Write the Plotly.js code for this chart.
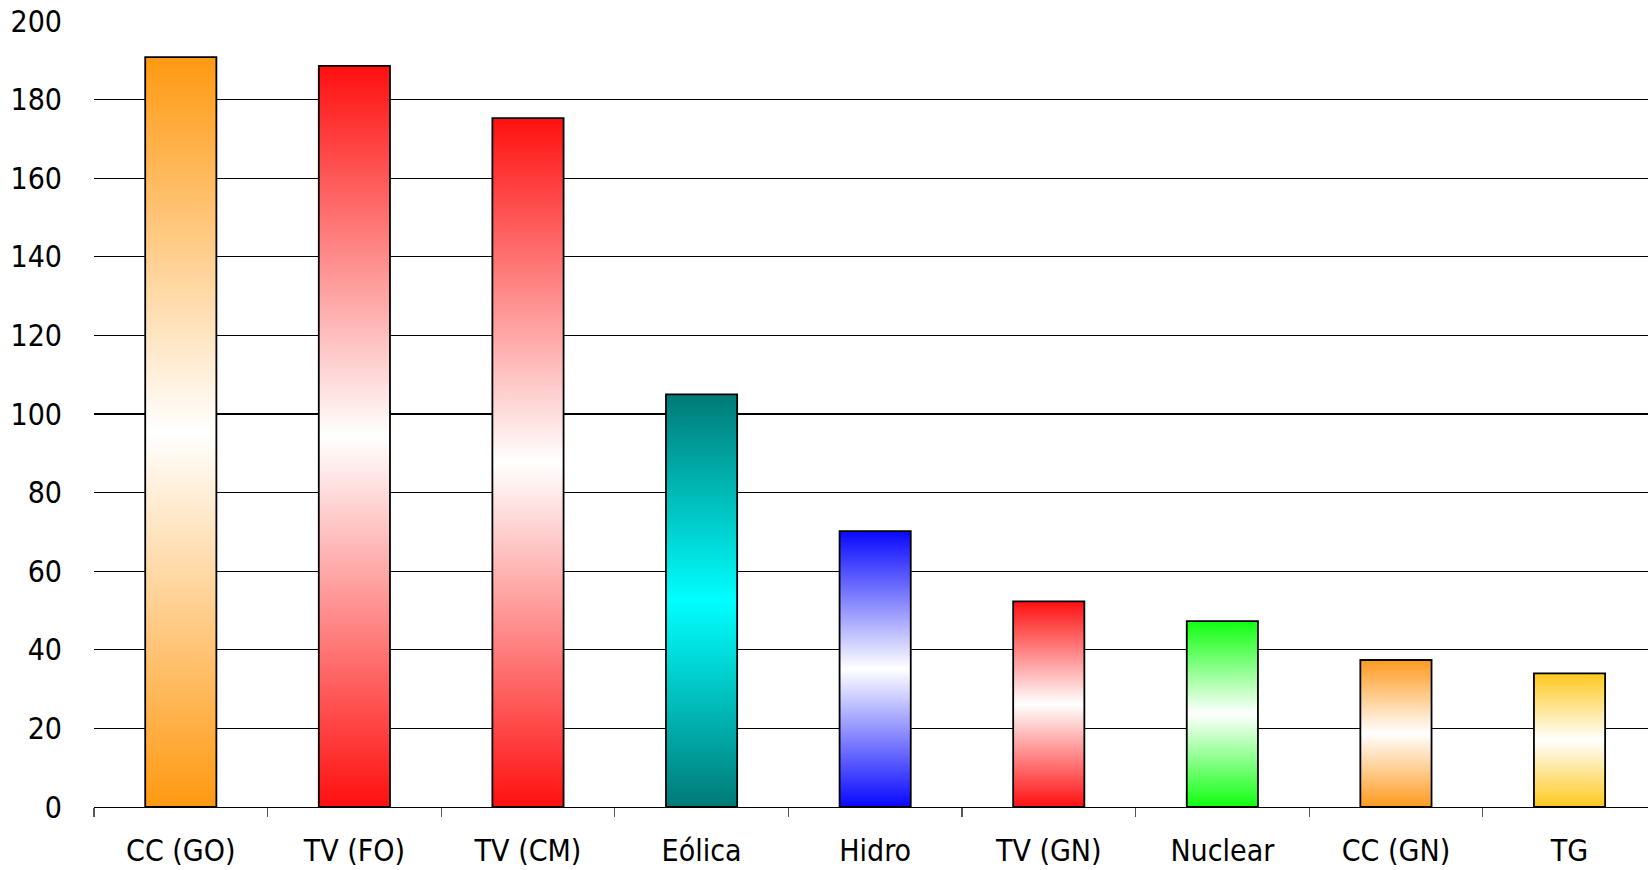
<!DOCTYPE html>
<html>
<head>
<meta charset="utf-8">
<script src="https://cdn.plot.ly/plotly-3.0.1.min.js"></script>
<style>
  body { margin: 0; background: #ffffff; overflow: hidden; }
  #chart { width: 1648px; height: 870px; }
</style>
</head>
<body>
<div id="chart"></div>
<script>
// dữ liệu
var categorias = ["CC (GO)", "TV (FO)", "TV (CM)", "Eólica", "Hidro", "TV (GN)", "Nuclear", "CC (GN)", "TG"];
var valores = [190.8, 188.6, 175.3, 105.0, 70.2, 52.3, 47.3, 37.4, 34.0];
var yTicks = [0, 20, 40, 60, 80, 100, 120, 140, 160, 180, 200];

// màu gradient: mép trên/dưới và ở giữa
var colorBorde = ["#ff9911", "#ff0f0f", "#ff1010", "#007a76", "#0808ff", "#ff1010", "#10ff10", "#ff9a20", "#ffc81e"];
var colorCentro = ["#ffffff", "#ffffff", "#ffffff", "#00ffff", "#ffffff", "#ffffff", "#ffffff", "#ffffff", "#ffffff"];

var fuente = "DejaVu Sans Condensed, DejaVu Sans, sans-serif";

var data = [{
    type: "bar",
    x: categorias,
    y: valores,
    marker: {
        color: colorBorde,
        line: { color: "#000000", width: 1.8 }
    },
    hoverinfo: "skip"
}];

var layout = {
    width: 1648,
    height: 870,
    margin: { l: 94, r: 0, t: 21, b: 63 },
    paper_bgcolor: "#ffffff",
    plot_bgcolor: "#ffffff",
    font: { family: fuente, size: 30, color: "#000000" },
    showlegend: false,
    bargap: 0.59,
    xaxis: {
        type: "category",
        range: [-0.5, 8.452],
        showgrid: false,
        showline: true,
        linecolor: "#000000",
        linewidth: 1.2,
        ticks: "outside",
        tickson: "boundaries",
        ticklen: 9,
        tickwidth: 1.2,
        tickcolor: "#555555",
        ticklabelstandoff: 17,
        tickfont: { family: fuente, size: 30, color: "#000000" },
        fixedrange: true
    },
    yaxis: {
        range: [0, 200],
        tickvals: yTicks,
        ticktext: yTicks.map(String),
        showgrid: true,
        gridcolor: "#000000",
        gridwidth: 1.2,
        zeroline: false,
        showline: false,
        ticks: "",
        ticklabelstandoff: 31,
        tickfont: { family: fuente, size: 30, color: "#000000" },
        fixedrange: true
    }
};

Plotly.newPlot("chart", data, layout, { displayModeBar: false, staticPlot: true }).then(function (gd) {
    // Plotly không có gradient cho bar, nên thêm linearGradient vào svg
    var svg = gd.querySelector(".main-svg");
    var ns = "http://www.w3.org/2000/svg";
    var defs = svg.querySelector("defs") || svg.insertBefore(document.createElementNS(ns, "defs"), svg.firstChild);
    colorBorde.forEach(function (c, i) {
        var g = document.createElementNS(ns, "linearGradient");
        g.setAttribute("id", "grad" + i);
        g.setAttribute("x1", "0"); g.setAttribute("y1", "0");
        g.setAttribute("x2", "0"); g.setAttribute("y2", "1");
        [[0, c], [0.5, colorCentro[i]], [1, c]].forEach(function (s) {
            var st = document.createElementNS(ns, "stop");
            st.setAttribute("offset", s[0]);
            st.setAttribute("stop-color", s[1]);
            g.appendChild(st);
        });
        defs.appendChild(g);
    });
    var paths = gd.querySelectorAll(".trace.bars .point path");
    paths.forEach(function (p, i) {
        p.style.fill = "url(#grad" + i + ")";
    });
});
</script>
</body>
</html>
